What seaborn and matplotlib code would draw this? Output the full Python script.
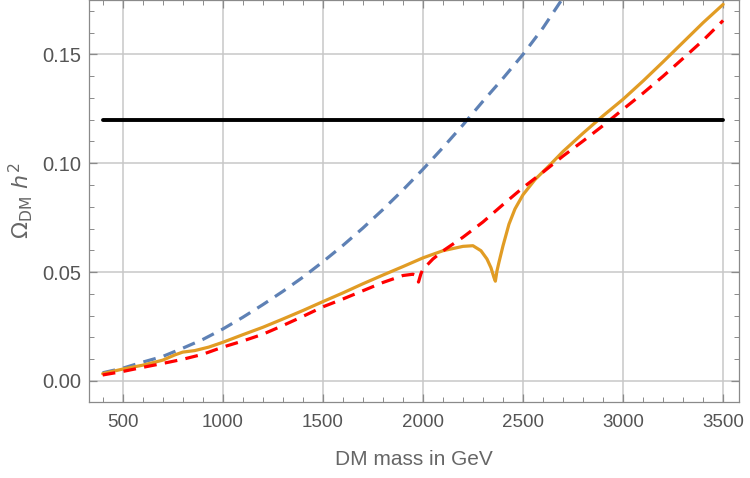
import numpy as np
import pandas as pd
import seaborn as sns
from matplotlib import pyplot as plt
from matplotlib.ticker import MultipleLocator, FormatStrFormatter

# relic density vs DM mass
blue_x = [400, 500, 600, 700, 800, 900, 1000, 1100, 1200, 1300, 1400, 1500,
          1600, 1700, 1800, 1900, 2000, 2100, 2200, 2300, 2400, 2500, 2600,
          2700]
blue_y = [0.0037, 0.0058, 0.0086, 0.0112, 0.0150, 0.0190, 0.0238, 0.0292,
          0.0350, 0.0411, 0.0476, 0.0547, 0.0622, 0.0702, 0.0787, 0.0877,
          0.0972, 0.1072, 0.1176, 0.1285, 0.1390, 0.1500, 0.1622, 0.1760]

red_x = [400, 500, 600, 700, 800, 900, 1000, 1100, 1200, 1300, 1400, 1500,
         1600, 1700, 1800, 1900, 1950, 1968, 1978, 1990, 2000, 2050, 2100,
         2200, 2300, 2400, 2500, 2600, 2700, 2800, 2900, 3000, 3100, 3200,
         3300, 3400, 3500]
red_y = [0.0027, 0.0043, 0.0062, 0.0080, 0.0099, 0.0122, 0.0155, 0.0183,
         0.0214, 0.0254, 0.0296, 0.0340, 0.0376, 0.0414, 0.0452, 0.0484,
         0.0490, 0.0484, 0.0454, 0.0492, 0.0512, 0.0560, 0.0597, 0.0660,
         0.0730, 0.0810, 0.0888, 0.0959, 0.1033, 0.1102, 0.1173, 0.1248,
         0.1322, 0.1400, 0.1482, 0.1565, 0.1656]

orange_x = [400, 500, 600, 700, 760, 800, 860, 930, 1000, 1100, 1200, 1300,
            1400, 1500, 1600, 1700, 1800, 1900, 2000, 2100, 2200, 2250, 2290,
            2320, 2340, 2355, 2362, 2370, 2380, 2400, 2430, 2460, 2500, 2560,
            2630, 2700, 2800, 2900, 3000, 3100, 3200, 3300, 3400, 3500]
orange_y = [0.0033, 0.0054, 0.0072, 0.0095, 0.0119, 0.0132, 0.0139, 0.0155,
            0.0177, 0.0212, 0.0246, 0.0284, 0.0323, 0.0364, 0.0404, 0.0446,
            0.0486, 0.0525, 0.0565, 0.0598, 0.0618, 0.0621, 0.0598, 0.0560,
            0.0520, 0.0475, 0.0458, 0.0505, 0.0545, 0.0620, 0.0720, 0.0790,
            0.0855, 0.0925, 0.0988, 0.1054, 0.1138, 0.1218, 0.1294, 0.1378,
            0.1466, 0.1556, 0.1646, 0.1730]

planck_x = [400, 3500]
planck_y = [0.12, 0.12]

sns.set_style('ticks')
plt.rcParams['font.family'] = ['Liberation Sans', 'DejaVu Sans']

fig = plt.figure(figsize=(7.5, 4.78), dpi=100)
ax = fig.add_axes([0.119, 0.16, 0.866, 0.839])

blue = pd.DataFrame({'m': blue_x, 'omega': blue_y})
red = pd.DataFrame({'m': red_x, 'omega': red_y})
orange = pd.DataFrame({'m': orange_x, 'omega': orange_y})
planck = pd.DataFrame({'m': planck_x, 'omega': planck_y})

sns.lineplot(data=blue, x='m', y='omega', ax=ax, color='#5E81B5', lw=2.3,
             linestyle=(0, (4, 2.6)), estimator=None)
sns.lineplot(data=orange, x='m', y='omega', ax=ax, color='#E19C24', lw=2.3,
             estimator=None)
sns.lineplot(data=red, x='m', y='omega', ax=ax, color='#FF0000', lw=2.3,
             linestyle=(0, (4, 2.6)), estimator=None)
sns.lineplot(data=planck, x='m', y='omega', ax=ax, color='black', lw=2.8,
             estimator=None)

ax.set_xlim(333, 3578)
ax.set_ylim(-0.0095, 0.1748)
ax.xaxis.set_major_locator(MultipleLocator(500))
ax.xaxis.set_minor_locator(MultipleLocator(100))
ax.yaxis.set_major_locator(MultipleLocator(0.05))
ax.yaxis.set_minor_locator(MultipleLocator(0.01))
ax.yaxis.set_major_formatter(FormatStrFormatter('%.2f'))

ax.grid(which='major', color='#c8c8c8', lw=1.1)
ax.set_axisbelow(True)
for s in ax.spines.values():
    s.set_color('#8a8a8a')
    s.set_linewidth(0.9)
ax.tick_params(which='both', direction='in', top=True, right=True,
               color='#8a8a8a', labelcolor='#555555')
ax.tick_params(axis='y', labelsize=14.5, pad=6)
ax.tick_params(axis='x', labelsize=13.5, pad=9)
ax.tick_params(which='major', length=6, width=0.9)
ax.tick_params(which='minor', length=3.5, width=0.7)

ax.set_xlabel('DM mass in GeV', color='#666666', fontsize=15, labelpad=14)
ax.set_ylabel(r'$\Omega_{\mathrm{DM}}\ h^2$', color='#666666', fontsize=16,
              labelpad=5)

plt.savefig('out.png', dpi=100)
plt.close()
